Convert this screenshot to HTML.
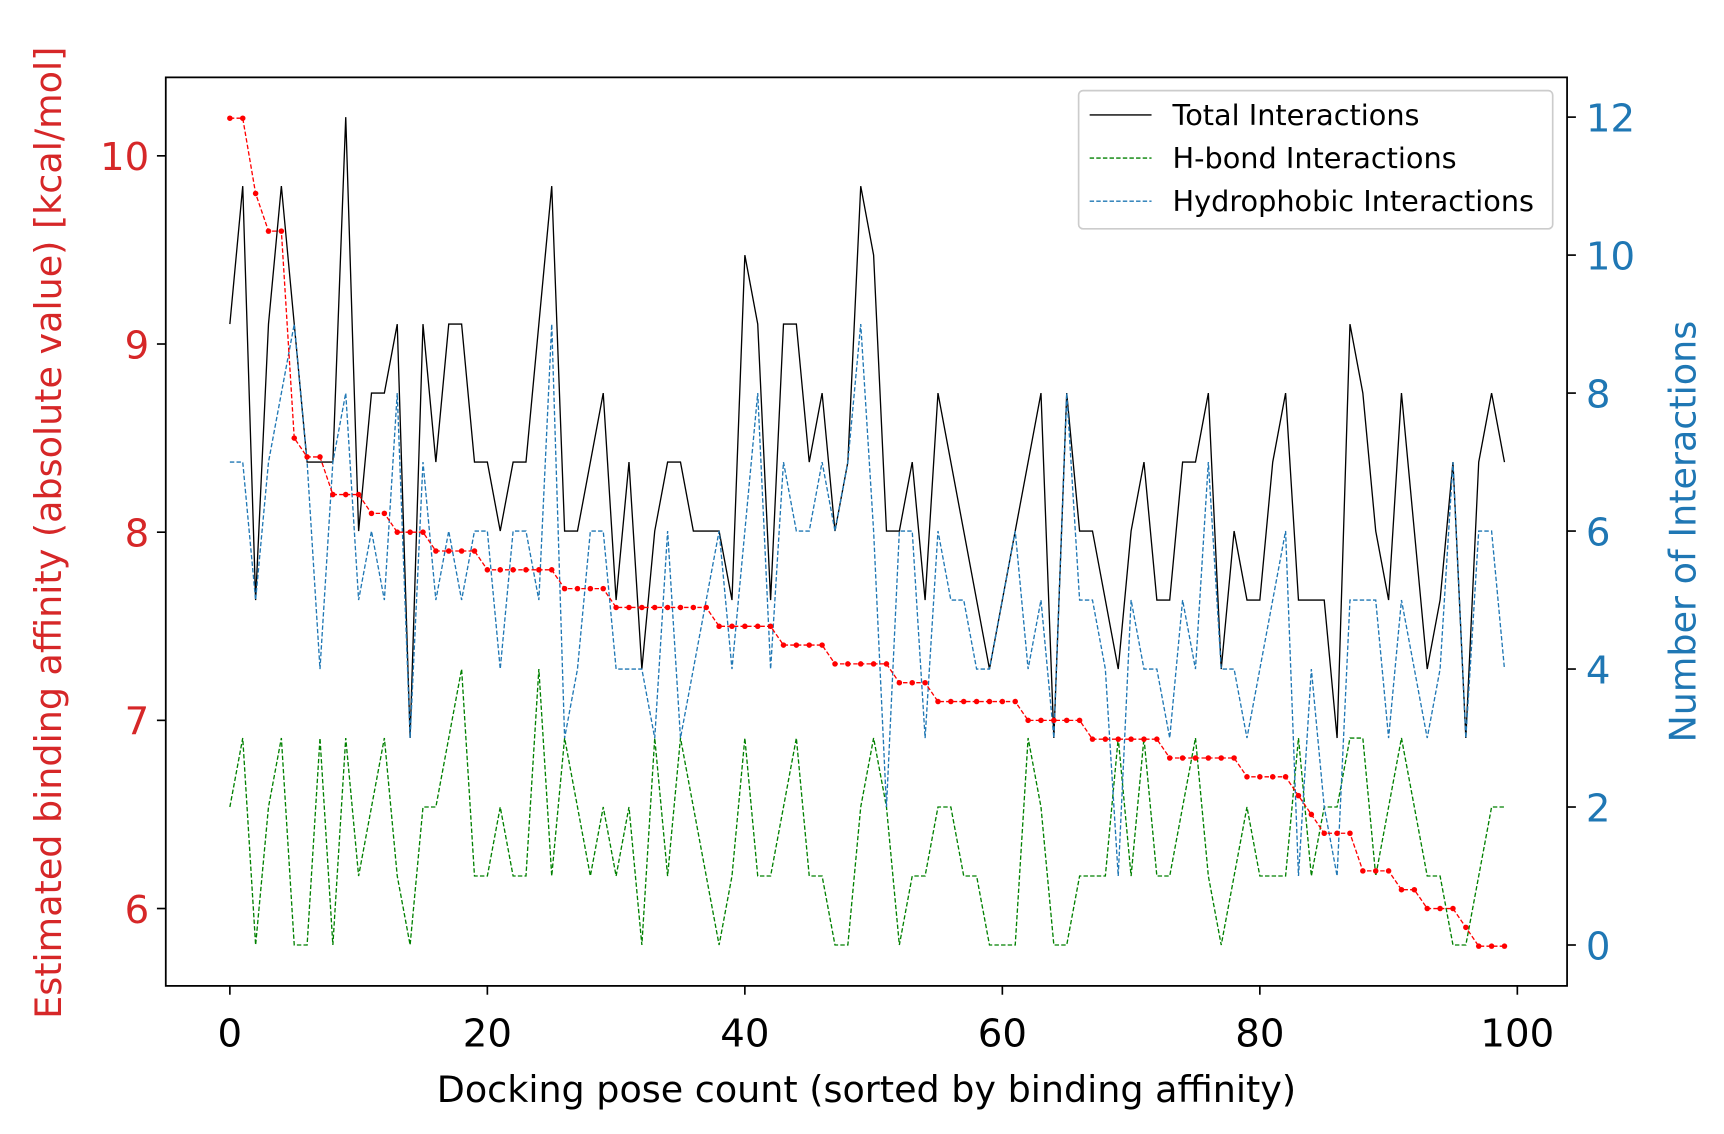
<!DOCTYPE html>
<html><head><meta charset="utf-8"><style>
html,body{margin:0;padding:0;background:#fff;}
svg{display:block;font-family:"DejaVu Sans","Liberation Sans",sans-serif;}
</style></head><body>
<svg id="chart" width="1724" height="1134" viewBox="0 0 1560 1026" preserveAspectRatio="none" xmlns="http://www.w3.org/2000/svg">
<rect x="0" y="0" width="1560" height="1026" fill="#fff"/>
<g id="marks"></g>
<rect x="150" y="70" width="1268" height="822" fill="none" stroke="#000" stroke-width="1.6"/>
<g id="axes"></g>
<text x="784" y="997" font-size="33" text-anchor="middle" fill="#000">Docking pose count (sorted by binding affinity)</text>
<text transform="translate(55,482) rotate(-90)" font-size="33" text-anchor="middle" fill="#d62728">Estimated binding affinity (absolute value) [kcal/mol]</text>
<text transform="translate(1534,481) rotate(-90)" font-size="33" text-anchor="middle" fill="#1f77b4">Number of Interactions</text>
<g>
<rect x="976" y="82" width="429" height="125" rx="4" fill="#fff" fill-opacity="0.85" stroke="#ccc" stroke-width="1.5"/>
<line x1="986" y1="104" x2="1042" y2="104" stroke="#000" stroke-width="1.2"/>
<text x="1061" y="113" font-size="26">Total Interactions</text>
<line x1="986" y1="143" x2="1042" y2="143" stroke="#008000" stroke-width="1.2" stroke-dasharray="4,2"/>
<text x="1061" y="152" font-size="26">H-bond Interactions</text>
<line x1="986" y1="182" x2="1042" y2="182" stroke="#1f77b4" stroke-width="1.2" stroke-dasharray="4,2"/>
<text x="1061" y="191" font-size="26">Hydrophobic Interactions</text>
</g>
</svg>
<script>
const affinity = [10.2,10.2,9.8,9.6,9.6,8.5,8.4,8.4,8.2,8.2,8.2,8.1,8.1,8.0,8.0,8.0,7.9,7.9,7.9,7.9,7.8,7.8,7.8,7.8,7.8,7.8,7.7,7.7,7.7,7.7,7.6,7.6,7.6,7.6,7.6,7.6,7.6,7.6,7.5,7.5,7.5,7.5,7.5,7.4,7.4,7.4,7.4,7.3,7.3,7.3,7.3,7.3,7.2,7.2,7.2,7.1,7.1,7.1,7.1,7.1,7.1,7.1,7.0,7.0,7.0,7.0,7.0,6.9,6.9,6.9,6.9,6.9,6.9,6.8,6.8,6.8,6.8,6.8,6.8,6.7,6.7,6.7,6.7,6.6,6.5,6.4,6.4,6.4,6.2,6.2,6.2,6.1,6.1,6.0,6.0,6.0,5.9,5.8,5.8,5.8];
const totalInt = [9,11,5,9,11,9,7,7,7,12,6,8,8,9,3,9,7,9,9,7,7,6,7,7,9,11,6,6,7,8,5,7,4,6,7,7,6,6,6,5,10,9,5,9,9,7,8,6,7,11,10,6,6,7,5,8,7,6,5,4,5,6,7,8,3,8,6,6,5,4,6,7,5,5,7,7,8,4,6,5,5,7,8,5,5,5,3,9,8,6,5,8,6,4,5,7,3,7,8,7];
const hbondInt = [2,3,0,2,3,0,0,3,0,3,1,2,3,1,0,2,2,3,4,1,1,2,1,1,4,1,3,2,1,2,1,2,0,3,1,3,2,1,0,1,3,1,1,2,3,1,1,0,0,2,3,2,0,1,1,2,2,1,1,0,0,0,3,2,0,0,1,1,1,3,1,3,1,1,2,3,1,0,1,2,1,1,1,3,1,2,2,3,3,1,2,3,2,1,1,0,0,1,2,2];
const hydroInt = [7,7,5,7,8,9,7,4,7,8,5,6,5,8,3,7,5,6,5,6,6,4,6,6,5,9,3,4,6,6,4,4,4,3,6,3,4,5,6,4,6,8,4,7,6,6,7,6,7,9,6,2,6,6,3,6,5,5,4,4,5,6,4,5,3,8,5,5,4,1,5,4,4,3,5,4,7,4,4,3,4,5,6,1,4,2,1,5,5,5,3,5,4,3,4,7,3,6,6,4];
const xTicks = [0,20,40,60,80,100];
const leftTicks = [6,7,8,9,10];
const rightTicks = [0,2,4,6,8,10,12];

const NS = "http://www.w3.org/2000/svg";
const xS = v => 208 + v * 11.65;
const yL = v => 141 + (10 - v) * 170.25;
const yR = v => 855 - v * 62.42;
const marks = document.getElementById('marks');
const axes = document.getElementById('axes');
function mk(tag, attrs, parent){ const e=document.createElementNS(NS,tag); for(const k in attrs) e.setAttribute(k,attrs[k]); parent.appendChild(e); return e; }
function poly(vals, ys, stroke, dash, name, w){
  const pts = vals.map((v,i)=>xS(i).toFixed(2)+','+ys(v).toFixed(2)).join(' ');
  const p = mk('polyline',{points:pts,fill:'none',stroke:stroke,'stroke-width':w,'stroke-dasharray':dash,'stroke-linejoin':'miter'},marks);
  
  
}
poly(totalInt, yR, '#000', 'none', 'total-interactions-line', 1.2);
poly(hbondInt, yR, '#008000', '4,2', 'hbond-interactions-line', 1.2);
poly(hydroInt, yR, '#1f77b4', '4,2', 'hydrophobic-interactions-line', 1.2);
poly(affinity, yL, '#ff0000', '4,2', 'affinity-line', 1.2);
affinity.forEach((v,i)=>{
  const c = mk('circle',{cx:xS(i),cy:yL(v),r:2.5,fill:'#ff0000'},marks);
  
  
});
xTicks.forEach(t=>{
  const l = mk('line',{x1:xS(t),x2:xS(t),y1:892,y2:900,stroke:'#000','stroke-width':1.5},axes);
  
  
  const tx = mk('text',{x:xS(t),y:947,'font-size':35,'text-anchor':'middle',fill:'#000'},axes);
  tx.textContent = t;
  
  
});
leftTicks.forEach(t=>{
  const l = mk('line',{x1:142,x2:150,y1:yL(t),y2:yL(t),stroke:'#000','stroke-width':1.5},axes);
  
  
  const tx = mk('text',{x:135,y:yL(t)+13,'font-size':35,'text-anchor':'end',fill:'#d62728'},axes);
  tx.textContent = t;
  
  
});
rightTicks.forEach(t=>{
  const l = mk('line',{x1:1418,x2:1426,y1:yR(t),y2:yR(t),stroke:'#000','stroke-width':1.5},axes);
  
  
  const tx = mk('text',{x:1435,y:yR(t)+13,'font-size':35,'text-anchor':'start',fill:'#1f77b4'},axes);
  tx.textContent = t;
  
  
});
</script>
</body></html>
